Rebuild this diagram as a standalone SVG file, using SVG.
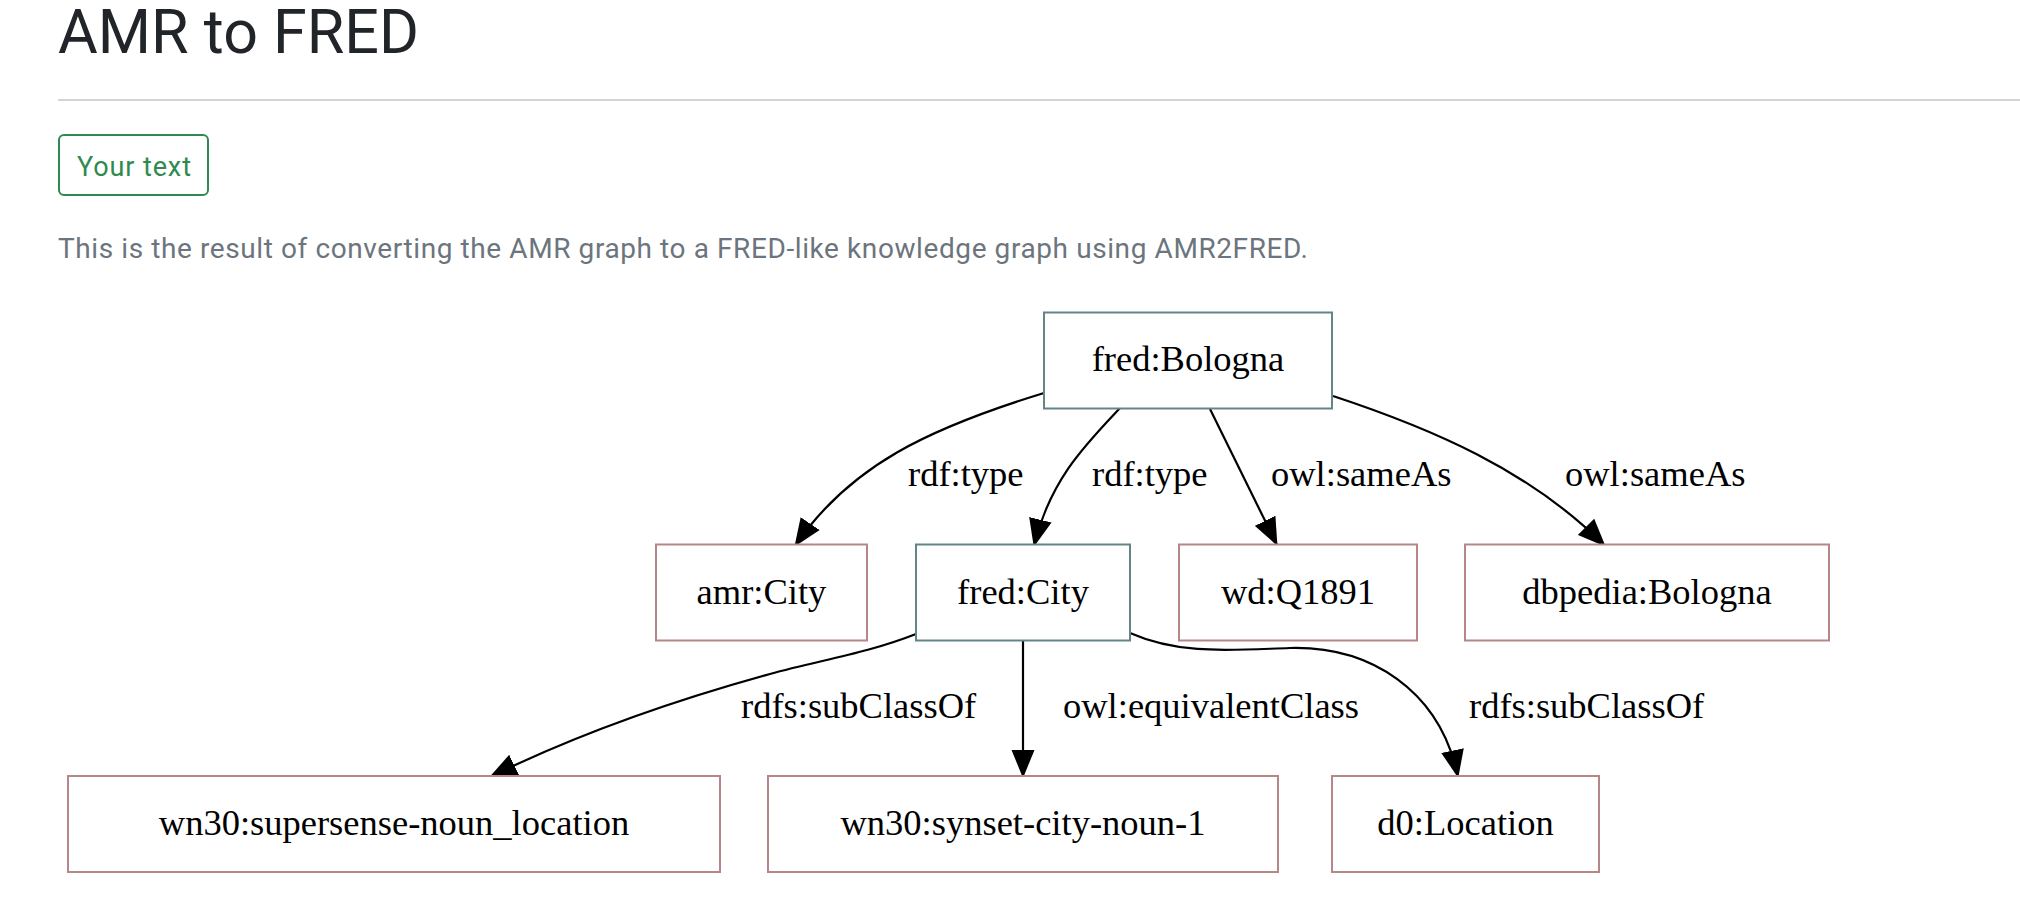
<svg xmlns="http://www.w3.org/2000/svg" width="2020" height="902" viewBox="0 0 2020 902">
<style>
.title{font-family:Roboto,"Liberation Sans",sans-serif;font-size:61px;fill:#212529}
.btn{fill:none;stroke:#2f8a4f;stroke-width:2}
.btntxt{font-family:Roboto,"Liberation Sans",sans-serif;font-size:27px;fill:#2f8a4f}
.desc{font-family:Roboto,"Liberation Sans",sans-serif;font-size:28px;fill:#6c757d}
.nodeA rect{fill:#fff;stroke:#648585;stroke-width:2}
.nodeB rect{fill:#fff;stroke:#b68787;stroke-width:2}
.lbl{font-family:"Liberation Serif","Times New Roman",serif;font-size:36.5px;fill:#000}
.node text{text-anchor:middle}
.edge{fill:none;stroke:#000;stroke-width:2.2;marker-end:url(#arr)}
</style>
<defs>
<marker id="arr" markerUnits="userSpaceOnUse" markerWidth="28" markerHeight="24" viewBox="0 0 28 24" refX="27" refY="12" orient="auto">
<path d="M0,0.5 L28,12 L0,23.5 z" fill="#000"/>
</marker>
</defs>
<rect width="2020" height="902" fill="#fff"/>
<g id="header">
<text class="title" x="58" y="53">AMR to FRED</text>
<line x1="58" y1="100" x2="2020" y2="100" stroke="#d4d4d4" stroke-width="2"/>
<rect class="btn" x="59" y="135" width="149" height="60" rx="5"/>
<text class="btntxt" x="77" y="176" textLength="114">Your text</text>
<text class="desc" x="58" y="258" textLength="1250">This is the result of converting the AMR graph to a FRED-like knowledge graph using AMR2FRED.</text>
</g>
<g id="connectors">
<path class="edge" d="M1044,393 C930,428 850,465 795,546"/>
<path class="edge" d="M1120,408 C1085,445 1050,480 1034,546"/>
<path class="edge" d="M1210,409 L1277,545"/>
<path class="edge" d="M1333,396 C1430,428 1530,470 1605,546"/>
<path class="edge" d="M916,634 C865,654 820,660 770,674 C690,696 590,728 490,777"/>
<path class="edge" d="M1023,641 L1023,777"/>
<path class="edge" d="M1130,633 C1180,655 1230,650 1290,648 C1370,646 1440,690 1458,777"/>
<text class="lbl" x="908" y="486">rdf:type</text>
<text class="lbl" x="1092" y="486">rdf:type</text>
<text class="lbl" x="1271" y="486">owl:sameAs</text>
<text class="lbl" x="1565" y="486">owl:sameAs</text>
<text class="lbl" x="741" y="718">rdfs:subClassOf</text>
<text class="lbl" x="1063" y="718">owl:equivalentClass</text>
<text class="lbl" x="1469" y="718">rdfs:subClassOf</text>
</g>
<g id="fred_Bologna" class="node nodeA"><rect x="1044" y="312.5" width="288" height="96"/><text class="lbl" x="1188" y="371">fred:Bologna</text></g>
<g id="amr_City" class="node nodeB"><rect x="656" y="544.5" width="211" height="96"/><text class="lbl" x="761.5" y="603.5">amr:City</text></g>
<g id="fred_City" class="node nodeA"><rect x="916" y="544.5" width="214" height="96"/><text class="lbl" x="1023" y="603.5">fred:City</text></g>
<g id="wd_Q1891" class="node nodeB"><rect x="1179" y="544.5" width="238" height="96"/><text class="lbl" x="1298" y="603.5">wd:Q1891</text></g>
<g id="dbpedia_Bologna" class="node nodeB"><rect x="1465" y="544.5" width="364" height="96"/><text class="lbl" x="1647" y="603.5">dbpedia:Bologna</text></g>
<g id="wn30_supersense" class="node nodeB"><rect x="68" y="776" width="652" height="96"/><text class="lbl" x="394" y="835">wn30:supersense-noun_location</text></g>
<g id="wn30_synset" class="node nodeB"><rect x="768" y="776" width="510" height="96"/><text class="lbl" x="1023" y="835">wn30:synset-city-noun-1</text></g>
<g id="d0_Location" class="node nodeB"><rect x="1332" y="776" width="267" height="96"/><text class="lbl" x="1465.5" y="835">d0:Location</text></g>
</svg>
